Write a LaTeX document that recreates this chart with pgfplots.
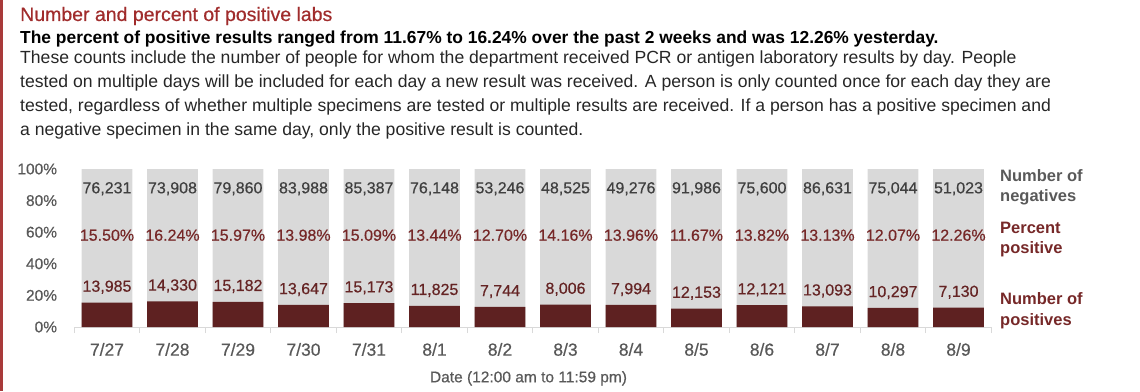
\documentclass[border=0pt]{standalone}
\usepackage{pgfplots}
\pgfplotsset{compat=1.18}
\usepackage{pgfplotstable}
\usepackage{fontspec}
\setmainfont{Liberation Sans}
\newfontfamily\medfont[FakeBold=0.5]{Liberation Sans}
\definecolor{titlered}{HTML}{A02C2C}
\definecolor{borderred}{HTML}{A83A3A}
\definecolor{barred}{HTML}{5E2121}
\definecolor{bargray}{HTML}{D9D9D9}
\definecolor{labgray}{HTML}{595959}
\definecolor{neggray}{HTML}{404040}
\definecolor{pctred}{HTML}{762828}
\definecolor{posred}{HTML}{652424}
\definecolor{txt}{HTML}{262626}

\pgfplotstableread{
x neg pos pct
0 76231 13985 15.50
1 73908 14330 16.24
2 79860 15182 15.97
3 83988 13647 13.98
4 85387 15173 15.09
5 76148 11825 13.44
6 53246 7744 12.70
7 48525 8006 14.16
8 49276 7994 13.96
9 91986 12153 11.67
10 75600 12121 13.82
11 86631 13093 13.13
12 75044 10297 12.07
13 51023 7130 12.26
}\labdata

\begin{document}
\begin{tikzpicture}[x=1pt,y=1pt]
\path[use as bounding box] (0,0) rectangle (1140,391);
\fill[borderred] (0,0) rectangle (2.7,391);
\node[anchor=base west, inner sep=0pt, text=titlered, font=\fontsize{19.5}{22}\medfont] at (20,370) {Number and percent of positive labs};
\node[anchor=base west, inner sep=0pt, text=black, font=\fontsize{17.4}{19}\selectfont\bfseries] at (20,347.5) {The percent of positive results ranged from 11.67\% to 16.24\% over the past 2 weeks and was 12.26\% yesterday.};
\begin{scope}[every node/.style={anchor=base west, inner sep=0pt, text=txt, font=\fontsize{17.6}{19}\selectfont}]
\node at (20,327.5) {These counts include the number of people for whom the department received PCR or antigen laboratory results by day. People};
\node at (20,303.5) {tested on multiple days will be included for each day a new result was received. A person is only counted once for each day they are};
\node at (20,279.3) {tested, regardless of whether multiple specimens are tested or multiple results are received. If a person has a positive specimen and};
\node at (20,255) {a negative specimen in the same day, only the positive result is counted.};
\end{scope}

\begin{axis}[
  at={(74.25pt,64pt)}, anchor=south west,
  scale only axis, width=917pt, height=158pt,
  xmin=-0.5, xmax=13.5, ymin=0, ymax=100,
  clip=false,
  axis x line*=bottom, axis y line*=left,
  y axis line style={draw=none},
  x axis line style={draw=bargray, line width=1pt},
  xtick={0,...,13},
  xticklabels={7/27,7/28,7/29,7/30,7/31,8/1,8/2,8/3,8/4,8/5,8/6,8/7,8/8,8/9},
  minor xtick={-0.5,0.5,...,13.5},
  major tick length=0pt, minor tick length=6pt, tick align=outside,
  minor tick style={draw=bargray, line width=1pt},
  major tick style={draw=none},
  ytick={0,20,...,100},
  yticklabel={\pgfmathprintnumber{\tick}\%},
  /pgf/number format/assume math mode=true,
  xticklabel style={font=\fontsize{17.5}{19}\medfont, text=labgray, anchor=base, inner sep=0pt, yshift=-28.7pt},
  yticklabel style={font=\fontsize{15.5}{18}\medfont, text=labgray, anchor=east, inner sep=0pt, xshift=-17pt},
]
\addplot[ybar, bar width=0.772, bar shift=0pt, fill=bargray, draw=none] table[x=x, y expr=100] {\labdata};
\addplot[ybar, bar width=0.772, bar shift=0pt, fill=barred, draw=none] table[x=x, y=pct] {\labdata};
\addplot[draw=none, mark=none, point meta=\thisrow{neg},
  nodes near coords={\pgfmathprintnumber[1000 sep={,}]{\pgfplotspointmeta}},
  nodes near coords style={anchor=base, inner sep=0pt, text=neggray, font=\fontsize{16}{19}\medfont}]
  table[x=x, y expr=84.6] {\labdata};
\addplot[draw=none, mark=none, point meta=\thisrow{pct},
  nodes near coords={\pgfmathprintnumber[fixed, fixed zerofill, precision=2]{\pgfplotspointmeta}\%},
  nodes near coords style={anchor=base, inner sep=0pt, text=pctred, font=\fontsize{16}{19}\medfont}]
  table[x=x, y expr=54.6] {\labdata};
\addplot[draw=none, mark=none, point meta=\thisrow{pos},
  nodes near coords={\pgfmathprintnumber[1000 sep={,}]{\pgfplotspointmeta}},
  nodes near coords style={anchor=base, inner sep=0pt, yshift=10.8pt, text=posred, font=\fontsize{16}{19}\medfont}]
  table[x=x, y=pct] {\labdata};
\end{axis}

\node[anchor=base, inner sep=0pt, text=labgray, font=\fontsize{15.5}{18}\medfont] at (528.5,8.7) {Date (12:00 am to 11:59 pm)};
\begin{scope}[every node/.style={anchor=base west, inner sep=0pt, font=\fontsize{16.5}{19}\selectfont\bfseries}]
\node[text=labgray] at (1000,209.3) {Number of};
\node[text=labgray] at (1000,189.3) {negatives};
\node[text=pctred] at (1000,157) {Percent};
\node[text=pctred] at (1000,137.7) {positive};
\node[text=pctred] at (1000,86) {Number of};
\node[text=pctred] at (1000,65.3) {positives};
\end{scope}
\end{tikzpicture}
\end{document}
